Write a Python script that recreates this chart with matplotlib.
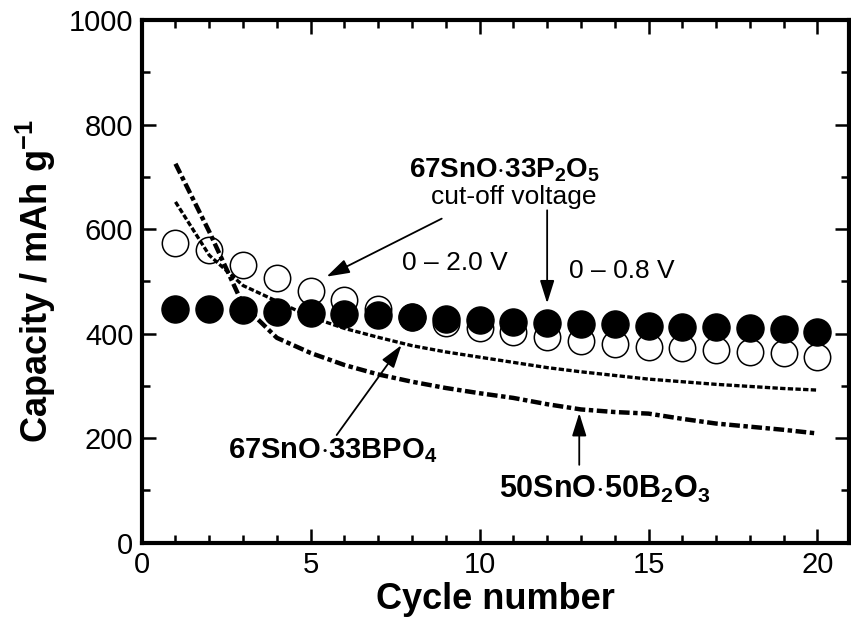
import matplotlib
matplotlib.use("Agg")
import matplotlib.pyplot as plt
from matplotlib.ticker import MultipleLocator

plt.rcParams['font.family'] = ['Liberation Sans', 'DejaVu Sans']
plt.rcParams['mathtext.fontset'] = 'custom'
plt.rcParams['mathtext.rm'] = 'Liberation Sans:bold'
plt.rcParams['mathtext.it'] = 'Liberation Sans:bold'
plt.rcParams['mathtext.bf'] = 'Liberation Sans:bold'

cycles = list(range(1, 21))
# 67SnO.33P2O5, cut-off 0-2.0 V (open) and 0-0.8 V (filled)
p2o5_20V = [574, 560, 531, 506, 482, 464, 448, 432, 420, 410,
            404, 394, 385, 381, 375, 372, 369, 365, 362, 356]
p2o5_08V = [448, 448, 445, 442, 440, 437, 435, 432, 428, 426,
            423, 421, 418, 418, 414, 413, 412, 410, 408, 404]
# 67SnO.33BPO4
bpo4 = [652, 550, 492, 462, 432, 410, 393, 377, 365, 355,
        345, 335, 327, 320, 313, 308, 303, 299, 295, 292]
# 50SnO.50B2O3
b2o3 = [725, 595, 455, 392, 363, 340, 322, 308, 296, 286,
        277, 265, 255, 250, 247, 237, 228, 222, 216, 209]

fig = plt.figure(figsize=(8.51, 6.37), dpi=100)
ax = fig.add_axes([0.1665, 0.148, 0.831, 0.8206])

ax.plot(cycles, p2o5_20V, 'o', ms=19, mfc='white', mec='black', mew=1.1, zorder=2)
ax.plot(cycles, bpo4, color='black', lw=2.4, dashes=(1.6, 0.7), zorder=3)
ax.plot(cycles, b2o3, color='black', lw=3.2, dashes=(2.4, 0.8, 1, 0.8), zorder=3)
ax.plot(cycles, p2o5_08V, 'o', ms=19.5, mfc='black', mec='black', zorder=4)

ax.set_xlim(0, 20.93)
ax.set_ylim(0, 1000)
ax.xaxis.set_major_locator(MultipleLocator(5))
ax.xaxis.set_minor_locator(MultipleLocator(1))
ax.yaxis.set_major_locator(MultipleLocator(200))
ax.yaxis.set_minor_locator(MultipleLocator(100))
ax.tick_params(which='both', direction='in', top=True, right=True, width=1.8,
               labelsize=21, pad=6)
ax.tick_params(which='major', length=10)
ax.tick_params(which='minor', length=6)
for s in ax.spines.values():
    s.set_linewidth(3)

ax.set_xlabel('Cycle number', fontsize=26, fontweight='bold', labelpad=2)
ax.set_ylabel('Capacity / mAh g$^{-1}$', fontsize=26, fontweight='bold', labelpad=8)

ax.text(10.75, 713, '67SnO$\\cdot$33P$_2$O$_5$', fontsize=20, fontweight='bold',
        ha='center', va='center')
ax.text(11.0, 661, 'cut-off voltage', fontsize=19, ha='center', va='center')
ax.text(9.28, 535, '0 \u2013 2.0 V', fontsize=19, ha='center', va='center')
ax.text(14.2, 520, '0 \u2013 0.8 V', fontsize=19, ha='center', va='center')
ax.text(5.66, 177, '67SnO$\\cdot$33BPO$_4$', fontsize=21, fontweight='bold',
        ha='center', va='center')
ax.text(13.7, 101, '50SnO$\\cdot$50B$_2$O$_3$', fontsize=22, fontweight='bold',
        ha='center', va='center')

arrow = dict(arrowstyle='-|>,head_length=0.7,head_width=0.22', lw=1.3,
             color='black', mutation_scale=20, shrinkA=0, shrinkB=0)
ax.annotate('', xy=(5.47, 509), xytext=(8.88, 620), arrowprops=arrow)
ax.annotate('', xy=(12.0, 458), xytext=(12.0, 636), arrowprops=arrow)
ax.annotate('', xy=(7.69, 378), xytext=(5.77, 206), arrowprops=arrow)
ax.annotate('', xy=(12.95, 248), xytext=(12.95, 149), arrowprops=arrow)

fig.savefig('out.png', dpi=100)
